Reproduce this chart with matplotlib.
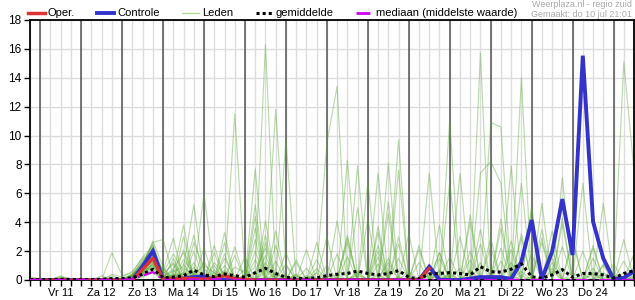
import matplotlib
matplotlib.use("Agg")
import matplotlib.pyplot as plt
import numpy as np
from matplotlib.lines import Line2D

plt.rcParams["font.family"] = ["Liberation Sans", "DejaVu Sans"]

# 6-hourly steps, hours relative to Fri 11 jul 00:00
uren = np.arange(-6, 349, 6)
dagen = ["Vr 11", "Za 12", "Zo 13", "Ma 14", "Di 15", "Wo 16", "Do 17",
         "Vr 18", "Za 19", "Zo 20", "Ma 21", "Di 22", "Wo 23", "Do 24"]

# neerslag in mm per 6 uur
oper = [0, 0,0,0,0, 0,0,0,0, 0,0,0.75,1.5, 0.05,0.1,0.12,0.1, 0.05,0.15,0.3,0.1,
        0.05,0,0,0, 0,0,0,0, 0,0,0,0, 0,0,0,0, 0,0,0.8]

controle = [0, 0,0,0,0, 0,0,0,0, 0,0,0.95,2.0, 0.05,0.05,0.1,0.2, 0.25,0.02,0,0,
            0,0,0,0, 0,0,0,0, 0,0,0,0, 0,0,0,0, 0,0,0.92,0.02, 0,0,0.1,0.2,
            0.2,0.2,0.07,1.27, 4.15,0.07,1.96,5.6, 1.73,15.53,4.04,1.5, 0.07,0.15,0.6]

gemiddelde = [0.02, 0.03,0.03,0.05,0.04, 0.02,0.03,0.05,0.1, 0.1,0.15,0.4,0.74,
              0.15,0.2,0.3,0.68, 0.35,0.23,0.42,0.3, 0.19,0.5,0.81,0.45,
              0.19,0.1,0.1,0.15, 0.3,0.4,0.45,0.62, 0.45,0.35,0.45,0.65,
              0.19,0.07,0.42,0.45, 0.51,0.45,0.35,0.92, 0.57,0.55,0.75,1.12,
              0.23,0.12,0.35,0.72, 0.19,0.45,0.45,0.35, 0.12,0.45,0.65]

mediaan = [0, 0,0,0,0, 0,0,0,0, 0,0.05,0.3,0.55, 0.02,0,0.02,0.05, 0.02,0.05,0.12,0.02,
           0,0,0.02,0, 0,0,0,0, 0,0,0,0.02, 0,0,0,0.02, 0,0,0.02,0, 0,0,0,0.02,
           0,0,0,0.02, 0,0,0,0, 0,0,0,0, 0,0,0]

leden = [
    [0.1, 0,0,0,0, 0,0,0,0, 0,0.2,1.0,2.6, 2.8,0.3,0.1,0.4, 0,0,0.2,0, 0.3,0.9,16.3,0.5, 0,0,0.1,0, 0,0.2,0,0, 0,0.4,0,1.5, 0,0,0.3,0, 0,0.1,0,1.2, 0,0,0.3,0, 0,0,0.6,0, 0.2,0,0,0, 0,0.1,0],
    [0.1, 0,0,0.1,0, 0,0,0,0, 0,0.1,0.8,2.2, 0.3,0.6,0.9,5.2, 0.2,0,0.4,11.5, 0.4,0,0.2,0, 0,0,0.3,0, 0.3,0,0,0, 0,0,1.2,0, 0.1,0,0.5,0, 0,0,0.7,0, 0,0.3,0,0, 0,0,2.1,0, 0,0,0.4,0, 0,0,0.2],
    [0, 0,0.1,0,0, 0,0,0,0, 0,0.3,1.4,1.8, 0.2,0,0.8,0.4, 6.0,0.3,0.1,0, 0,0,0.5,11.8, 1.0,0,0,0, 0,0,0,0.4, 0,0,0,0, 0,0,0,0, 0.3,0,0,0, 0,0,0,3.2, 0,0,0,0, 0.5,0,0,0, 0,0,0],
    [0, 0,0,0,0, 0,0,0,0, 0,0.2,0.9,2.0, 0.1,0.3,0.5,0, 0.4,0,0,0, 0,7.7,0,0, 9.7,0,0.2,0, 0,0,0,0, 0,0.3,0,0.2, 0,0,0,0.6, 0,0,0,0, 0.4,0,0,0, 0,0,0,0, 0,0,1.5,0, 0,0,0],
    [0, 0,0,0,0, 0,0,0,0.1, 0.1,0.4,1.2,1.5, 0,0.2,0,0.4, 1.0,0.5,0,0, 0,5.2,0,0, 0,0.3,0,0.5, 9.5,13.4,0,0, 0,0,0,0, 0,0.2,0,0, 0.5,0,0,0, 0,0,0,0.3, 0,0,0,0, 0,0.4,0,0, 0,0,0.3],
    [0, 0,0,0,0, 0,0,0.3,0, 0,0.1,0.6,1.3, 0,0,0,0, 0,0,0.7,0, 0,0,0,0, 0,0,0,0, 0,0,8.3,0, 0,0,0,0, 0.2,0,0,0, 11.1,0,0,0, 0,0,0,0.6, 0,0,0,0, 0,0,0,0.3, 0.4,0,0],
    [0, 0,0,0,0, 0,0,0,0, 0,0,0.5,1.1, 0.6,0,0.2,0, 0,0,0,0.3, 0,0,0,0, 0,0.4,0,0, 0,0,0,7.9, 0,0,0,0, 0,0,7.4,0, 0,0,0,0.3, 0,0,0,0, 0.2,0,0,0, 0,0,0,5.3, 0,0.2,0],
    [0, 0,0,0,0, 0,0,0,0, 0,0.1,0.4,0.9, 0.3,0.2,1.4,0.5, 0,0,0,0, 0,0,0,0, 0,0,0,0, 0,0,0,0, 6.8,0,0,0, 0,0,0,0, 0,0,0,0, 10.9,10.6,0,0, 0,0,0,0, 0,0,0,0, 0,0.5,0],
    [0, 0,0,0,0, 0,0,0,0, 0,0.2,0.7,1.6, 0,0.4,0,0, 0,0.5,0,0, 0,0,0,0, 0.3,0,0,0, 0,0,0,0, 0,7.4,0,0, 0,0,0,0, 0,0,0,15.7, 0,0,0,0, 0,0,0,0, 0,0,0,0, 0.3,0,0],
    [0, 0,0,0,0, 0,0,0,0, 0,0,0.3,0.8, 0,0.4,0,0, 0,0,0.6,0, 0,0,0,0.3, 0,0,0,0, 0,0,0,0.5, 0,0,8.1,0, 0,0,0,0, 0.4,0,0,0, 0,0,0,14.0, 0,0,0,0, 0,0,0.5,0, 0,0,0],
    [0, 0,0,0,0, 0,0,0,0, 0,0,0.2,0.5, 0,0,0,0.9, 0,0,0,0, 0,0,0.7,0, 0,0,0,0, 0,0,0,0, 0,0,0,9.7, 0,0,0,0, 0,0,0.6,0, 0,0,0,0, 0,0,0.8,0, 0,0,0,0, 0,15.1,7.6],
    [0, 0,0,0,0, 0,0,0,0, 0,0.3,1.1,2.4, 0.5,1.8,0.6,0.2, 0,1.2,0.4,0, 0,0.6,2.2,0, 0,0,0,0.8, 0,0,0,0.3, 0,0,0,7.6, 0,0,0,0, 6.8,0,0,0, 0,0,0,0, 0,0,0,0, 0,0,0,0, 0,0,0],
    [0, 0,0,0.2,0, 0,0,0,0, 0,0.1,0.9,1.7, 0.2,0,2.1,0.3, 0,0,0,0.9, 0.5,0,0,0, 1.9,0,0,0, 0,0,0,0, 0,1.1,0,0, 0,0,0,0, 0,7.4,0,0, 0,0,0,0, 0,5.3,0,0, 0,0,0,0, 0,0,0],
    [0, 0,0,0,0, 0,0,0,0, 0,0.4,1.3,2.1, 0,0.5,3.8,0, 0,0,0,0, 0,0,0,0, 0,0,0,0, 0,0.4,0,0, 0,0,0,0, 0,0,0,0, 0,0,0,7.4, 8.2,6.7,0,0, 0,0,0,0, 0,0,0,0, 0,0,0],
    [0, 0,0,0,0, 0,0,0,0, 0,0.2,0.8,1.9, 0.1,0.3,0,0, 2.2,0,0,0, 0,0,0,3.4, 0,0,0,0, 0,0,0,0, 0,0,0,0, 0,0,0,0, 0,0,0,0, 0,0,7.9,0, 0,0,0,7.1, 0,0,0,0, 0,0,0],
    [0, 0,0,0,0, 0,0,0,0, 0,0.1,0.5,1.2, 0,0,0,0, 0,0,0,0, 0,2.8,0,0, 0,0,0,0, 0,0,0,0, 0,0,0,0, 0,0,0,0, 0,0,0,0, 0,0,0,6.7, 0,0,0,0, 0,6.7,0,0, 0,0,0],
    [0.2, 0.1,0,0.2,0.1, 0,0,0,1.9, 0.3,0.5,1.6,2.3, 0.4,1.1,0,2.6, 0.8,0,1.5,0.2, 0,0,0.9,0, 0,0,0,0, 0,1.8,0,0, 0,0,0,2.5, 0,0,0,0.4, 0,0,0,0, 0,0,1.2,0, 0,2.6,0,0, 0,0,0,0.5, 0,0,0],
    [0.1, 0,0,0.1,0, 0,0,0,0.4, 0.2,0.6,1.5,2.0, 0.2,0.8,1.9,0, 0,2.4,0,0, 0.4,0,4.1,0, 0,0.3,0,0, 0,0,3.1,0, 0,0,0,0, 0,0,0,0, 1.6,0,0,0, 0,3.6,0,0, 0,0,0,0, 0,0,0,0, 0.2,0,0.9],
    [0, 0,0,0.3,0, 0,0,0,0, 0,0.3,1.0,2.7, 0.9,0,0.5,3.1, 0,0,1.8,0, 0,3.6,0,0.5, 0,0,0,0.5, 0,0,0,0, 4.2,0,0,0, 0,0,0,1.9, 0,0,4.5,0, 0,0,0,0, 0,0,0,3.9, 0,0,0.8,0, 0,0,0],
    [0, 0,0,0,0, 0,0,0,0, 0,0.2,0.6,1.4, 0.6,2.9,0,0, 0,0,0,0, 0.8,0,0,2.4, 0,0,0,0, 0,0,0,0, 0,3.3,0,0, 0,0,0,0, 0,0,0,0, 0,0,0,0, 4.8,0,0,0, 0,0,0,0, 0,0,0],
    [0, 0,0,0,0, 0,0,0,0, 0,0.1,0.7,1.0, 0,0,0.5,0, 0,0,2.6,0, 0,0,0,0, 0,0,0,0, 0,0,0,5.0, 0,0,0,0, 0,2.1,0,0, 0,0,0,3.5, 0,0,0,0, 0,0,0,0, 0,0,2.2,0, 0,0,0],
    [0, 0,0,0,0, 0,0,0,0, 0,0.4,0.9,1.5, 0.3,0,0,1.2, 0,0,0,0, 0,1.4,0,0, 0,0,2.1,0, 0,0,0,0, 0,0,4.6,0, 0,0,0,0, 0,3.0,0,0, 0,0,0,0, 0,0,0,0, 0,0,0,0, 0,2.8,0],
    [0, 0,0,0,0, 0,0,0,0, 0,0.2,0.6,1.9, 0,0,0,0, 0,0.7,0,0, 0,0,3.1,0, 0,0,0,0, 0,0,2.6,0, 0,0,0,0, 0,0,0,0.7, 0,0,0,0, 0,0,2.7,0, 5.1,0,0,0, 0,0,0,0, 0,0,0],
    [0, 0,0,0,0, 0,0,0,0, 0,0.1,0.4,1.0, 0,1.5,0,0, 0,0,0,0, 0,0,0,0, 0,0,0,0, 3.0,0,0,0, 0,0,0,0, 0,0,0,0, 0,0,0,0, 0,4.2,0,0, 0,0,3.4,0, 0,0,0,0, 0,0,0],
    [0, 0,0,0,0, 0,0,0,0, 0,0.2,0.5,1.1, 0.4,0,0,0, 0,0,0,1.7, 0,0,0,0, 0,1.4,0,0, 0,0,0,0, 0,0,0,0, 0,0,0,3.8, 0,0,0,0, 2.3,0,0,0, 0,0,0,0, 0,0,0,0, 0,0,0],
    [0, 0,0,0,0, 0,0,0,0, 0,0.3,1.2,2.5, 0.2,0,0,0, 1.3,0,0,0, 0,0,0,0, 0,0,0,0, 0,0,0,0, 0,0,0,0, 3.2,0,0,0, 0,0,0,0, 0,0,0,0, 0,0,0,0, 3.0,0,0,0, 0,0,1.8],
    [0, 0,0,0,0, 0,0,0,0.3, 0,0.2,0.8,1.6, 0,0.7,0,0, 0,0,0,0, 1.6,0,0,0, 0,0,0,0, 0,0,0,0.6, 0,0,1.5,0, 0,0,0,0, 0,0,2.0,0, 0,0,0,0, 0,0,1.2,0, 0,0,0,0, 0,0,0],
    [0, 0,0,0,0, 0,0,0,0, 0,0.1,0.3,0.7, 0,0,0,0, 0,0,0,0, 0,0,1.2,0, 0,0,0,0, 0,0,0,0, 0,2.4,0,0, 0,0,0,0, 0,0,0,0, 0,0,0,0, 0,0,0,2.3, 0,0,0,0, 0,0,0],
    [0, 0,0,0,0, 0,0,0,0, 0,0.2,0.7,1.3, 0.1,0,1.1,0, 0,1.9,0,0, 0,0,0,1.3, 0,0,0,0, 0,0,1.6,0, 0,0,0,0, 0,1.2,0,0, 0,0,0,0, 2.9,0,0,0, 0,0,0,0, 0,0,0,1.1, 0,0,0],
    [0, 0,0,0,0, 0,0,0,0, 0,0.3,0.9,1.8, 0,0,0,0.6, 0,0,0,0, 0,0,1.7,0, 0,0,0,2.6, 0,0,0,0, 0,2.0,0,0, 0,0,0,0, 0,0,1.4,0, 0,0,0,2.9, 0,0,0,0, 0,2.0,0,0, 0,0,0],
    [0, 0,0,0,0, 0,0,0,0, 0,0.1,0.6,1.4, 0.8,0,0,0, 0,0,3.3,0, 0,0,0,0, 0,1.2,0,0, 0,0,0,0, 0,0,0,0, 0,2.4,0,0, 0,0.8,0,0, 0,0,0,0, 0,3.5,0,0, 0,0,0,1.0, 0,0,0],
    [0, 0,0,0,0, 0,0,0,0, 0,0.2,0.8,1.5, 0,0,0.4,0, 0,0,0,2.3, 0,0,0,0, 0,0,0,0, 1.0,0,0,0, 0,3.7,0,0, 0,0,0,1.5, 0,0,0,0, 0,2.2,0,0, 0,0,0,0, 2.7,0,0,0, 0,0,0],
    [0.1, 0,0.1,0,0, 0,0,0,0, 0,0.2,0.5,0.9, 0.4,1.2,0,0, 0,0,0,0, 0,4.4,0,0, 0,0,0.8,0, 0,0,2.9,0, 0,0,0,0, 0.6,0,0,0, 0,0,4.0,0, 0,0,0,0, 1.8,0,0,0, 0,0,2.4,0, 0,0,0],
    [0, 0,0,0,0, 0,0,0,0, 0,0.3,1.0,2.2, 0.6,0,3.0,0, 0,0,0,0, 0,2.0,0,0, 1.1,0,0,0, 0,0,0,0, 0,0,5.4,0, 0,0,0,1.9, 0,0,0,0, 0,0,2.1,0, 0,0,1.5,0, 0,0,0,0, 1.1,0,0],
    [0, 0,0,0,0, 0,0,0,0, 0,0.1,0.4,1.2, 0,0,0,2.0, 0,1.0,0,0, 0,0,0,0, 0,0,0,0, 0,4.1,0,0, 0,1.6,0,0, 0,0,1.0,0, 0,0,0,2.5, 0,0,0,0, 0,2.9,0,0, 0,0,0,0, 0,1.3,0],
    [0, 0,0,0,0, 0,0,0,0, 0,0.2,0.6,1.7, 0.2,0,0,0, 0,0,1.0,0, 0,0,2.6,0, 0,0,0,1.4, 0,0,0,0, 0,0,0,3.0, 0,0,0,0, 0,0,0,0, 0,1.3,0,0, 0,0,0,4.3, 0,0,0,0, 0,0,0],
]

fig = plt.figure(figsize=(6.35, 3.0), dpi=100)
ax = fig.add_axes([30 / 635, 20 / 300, 604 / 635, 260 / 300])

groen = (0.35, 0.65, 0.2)
for lid in leden:
    ax.plot(uren, lid, color=groen, lw=0.85, alpha=0.4, zorder=2)
ax.plot(uren, controle, color="#3333cc", lw=2.8, zorder=3, solid_joinstyle="miter")
ax.plot(uren[:len(oper)], oper, color="#dd3333", lw=2.3, zorder=4)
ax.plot(uren, gemiddelde, color="black", lw=2.2, ls=(0, (1, 1)), zorder=5)
ax.plot(uren, mediaan, color="#cc00ee", lw=1.5, ls=(0, (6, 2, 1, 2)), zorder=5)

ax.set_xlim(-6, 348)
ax.set_ylim(0, 18)
ax.set_yticks(range(0, 19, 2))
ax.set_xticks(12 + 24 * np.arange(len(dagen)))
ax.set_xticklabels(dagen)
ax.set_xticks(np.arange(-6, 349, 6), minor=True)
ax.tick_params(axis="both", which="both", length=4, width=1, pad=2)
ax.tick_params(axis="y", labelsize=8.5)
ax.tick_params(axis="x", labelsize=8)
ax.set_axisbelow(True)
ax.grid(axis="x", which="both", color="#dddddd", lw=1)
ax.grid(axis="y", which="major", color="#dddddd", lw=1)
for d in np.arange(0, 348, 24):
    ax.axvline(d, color="#555555", lw=1.1, zorder=1)
for s in ax.spines.values():
    s.set_linewidth(1.3)
    s.set_color("black")

handles = [
    Line2D([], [], color="#dd3333", lw=2.5),
    Line2D([], [], color="#3333cc", lw=2.8),
    Line2D([], [], color=(0.7, 0.85, 0.6), lw=1),
    Line2D([], [], color="black", lw=2.2, ls=(0, (1, 1))),
    Line2D([], [], color="#cc00ee", lw=2, ls=(0, (5, 2, 1, 2))),
]
labels = ["Oper.", "Controle", "Leden", "gemiddelde", "mediaan (middelste waarde)"]
fig.legend(handles, labels, loc="center left", bbox_to_anchor=(28 / 635, 1 - 13.5 / 300),
           ncol=5, frameon=False, fontsize=8, handlelength=1.5, handletextpad=0.3,
           columnspacing=2.0, borderpad=0, borderaxespad=0)

fig.text(632 / 635, 1 - 4.5 / 300, "Weerplaza.nl - regio zuid", ha="right", va="center",
         fontsize=6.5, color="#aaaaaa")
fig.text(632 / 635, 1 - 14.5 / 300, "Gemaakt: do 10 jul 21:01", ha="right", va="center",
         fontsize=6.5, color="#aaaaaa")

fig.savefig("out.png", dpi=100)
